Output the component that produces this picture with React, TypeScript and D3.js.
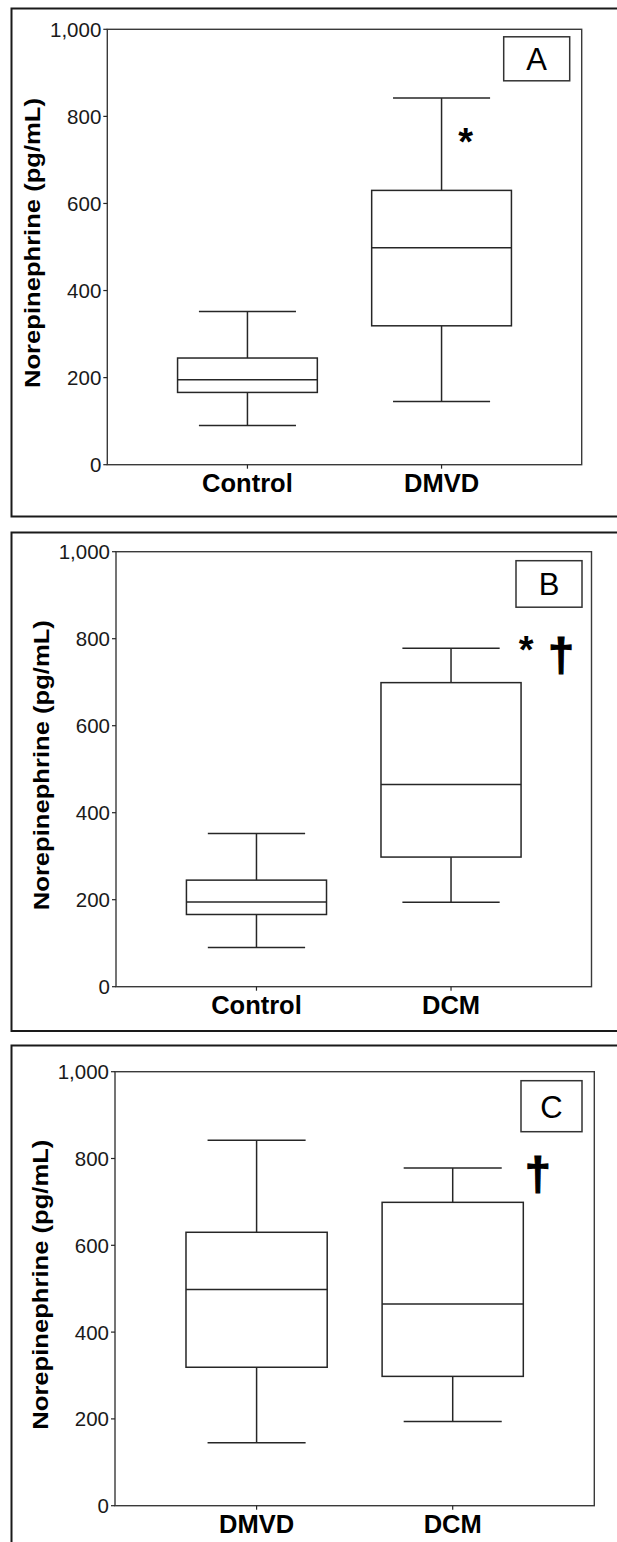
import React from 'react';
import * as d3 from 'd3';

// box stats: [min, q1, median, q3, max] in pg/mL
const yTicks = [0, 200, 400, 600, 800, 1000];
const controlStats = [90, 166, 195, 245, 352];
const dmvdStats = [145, 319, 498, 630, 842];
const dcmStats = [194, 298, 465, 699, 778];

const groupStats: Record<string, number[]> = {
  Control: controlStats,
  DMVD: dmvdStats,
  DCM: dcmStats,
};

const panelGroups = [
  ['Control', 'DMVD'],
  ['Control', 'DCM'],
  ['DMVD', 'DCM'],
];
const panelTags = ['A', 'B', 'C'];

// significance marks: symbol, group it sits next to, value level of its top
const panelMarks = [
  [{ sym: '*', group: 'DMVD', dx: 24, value: 780 }],
  [
    { sym: '*', group: 'DCM', dx: 75, value: 812 },
    { sym: '†', group: 'DCM', dx: 110, value: 805 },
  ],
  [{ sym: '†', group: 'DCM', dx: 85, value: 805 }],
];

const W = 617;
const H = 1542;

// pixel layout of each panel
const layout = [
  { frameY: 8.5, frameH: 508, left: 107.3, right: 581.7, top: 29.3, bottom: 464.7, tag: { dx: 12, dy: 7.5, w: 66, h: 44 } },
  { frameY: 532.5, frameH: 498.5, left: 116, right: 591.5, top: 551.7, bottom: 986.7, tag: { dx: 9.5, dy: 9, w: 66, h: 46.5 } },
  { frameY: 1045.5, frameH: 600, left: 115, right: 594.3, top: 1071.7, bottom: 1505.7, tag: { dx: 12.3, dy: 9, w: 61, h: 51 } },
];

const font = '"Liberation Sans", Arial, sans-serif';
const ink = '#262626';

const Panel = ({ idx }: { idx: number }) => {
  const L = layout[idx];
  const groups = panelGroups[idx];
  const x = d3.scalePoint().domain(groups).range([L.left, L.right]).padding(0.722);
  const y = d3.scaleLinear().domain([0, 1000]).range([L.bottom, L.top]);
  const step = x.step();
  const boxW = step * 0.72;
  const capW = step * 0.5;
  const fmt = d3.format(',');

  return (
    <g>
      <rect x={11.5} y={L.frameY} width={640} height={L.frameH} fill="none" stroke="#1a1a1a" strokeWidth={2} />
      <rect x={L.left} y={L.top} width={L.right - L.left} height={L.bottom - L.top} fill="none" stroke="#3a3a3a" strokeWidth={1.4} />

      {yTicks.map((t) => (
        <g key={t}>
          <line x1={L.left - 4} x2={L.left} y1={y(t)} y2={y(t)} stroke={ink} strokeWidth={1.2} />
          <text x={L.left - 6} y={y(t)} textAnchor="end" dominantBaseline="central" fontFamily={font} fontSize={20.5} fill="#1a1a1a">
            {fmt(t)}
          </text>
        </g>
      ))}

      <text
        transform={`translate(${L.left - 67},${(L.top + L.bottom) / 2 - 4}) rotate(-90)`}
        textAnchor="middle"
        fontFamily={font}
        fontWeight="bold"
        fontSize={21.5}
        textLength={290}
        lengthAdjust="spacingAndGlyphs"
        fill="#000"
      >
        Norepinephrine (pg/mL)
      </text>

      {groups.map((g) => {
        const cx = x(g) as number;
        const [mn, q1, med, q3, mx] = groupStats[g];
        return (
          <g key={g} stroke={ink} strokeWidth={1.5} fill="none">
            <line x1={cx} x2={cx} y1={L.bottom} y2={L.bottom + 4} strokeWidth={1.2} />
            <line x1={cx} x2={cx} y1={y(q3)} y2={y(mx)} />
            <line x1={cx} x2={cx} y1={y(q1)} y2={y(mn)} />
            <line x1={cx - capW / 2} x2={cx + capW / 2} y1={y(mx)} y2={y(mx)} />
            <line x1={cx - capW / 2} x2={cx + capW / 2} y1={y(mn)} y2={y(mn)} />
            <rect x={cx - boxW / 2} y={y(q3)} width={boxW} height={y(q1) - y(q3)} fill="#fff" />
            <line x1={cx - boxW / 2} x2={cx + boxW / 2} y1={y(med)} y2={y(med)} />
            <text x={cx} y={L.bottom + 27} textAnchor="middle" fontFamily={font} fontWeight="bold" fontSize={25.5} fill="#000" stroke="none">
              {g}
            </text>
          </g>
        );
      })}

      <rect
        x={L.right - L.tag.dx - L.tag.w}
        y={L.top + L.tag.dy}
        width={L.tag.w}
        height={L.tag.h}
        fill="#fff"
        stroke="#333"
        strokeWidth={1.5}
      />
      <text
        x={L.right - L.tag.dx - L.tag.w / 2}
        y={L.top + L.tag.dy + L.tag.h / 2 + 11.5}
        textAnchor="middle"
        fontFamily={font}
        fontSize={31}
        fill="#000"
      >
        {panelTags[idx]}
      </text>

      {panelMarks[idx].map((m, i) => {
        const mx = (x(m.group) as number) + m.dx;
        const top = y(m.value);
        return m.sym === '*' ? (
          <text key={i} x={mx} y={top + 30} textAnchor="middle" fontFamily={font} fontWeight="bold" fontSize={38} fill="#000">
            *
          </text>
        ) : (
          <text
            key={i}
            x={mx}
            y={top + 34}
            textAnchor="middle"
            fontFamily={font}
            fontWeight="bold"
            fontSize={47}
            fill="#000"
            stroke="#000"
            strokeWidth={1.2}
          >
            †
          </text>
        );
      })}
    </g>
  );
};

export default function App() {
  return (
    <svg width={W} height={H} style={{ position: 'absolute', left: 0, top: 0, background: '#fff' }}>
      <rect width={W} height={H} fill="#fff" />
      {[0, 1, 2].map((i) => (
        <Panel key={i} idx={i} />
      ))}
    </svg>
  );
}
